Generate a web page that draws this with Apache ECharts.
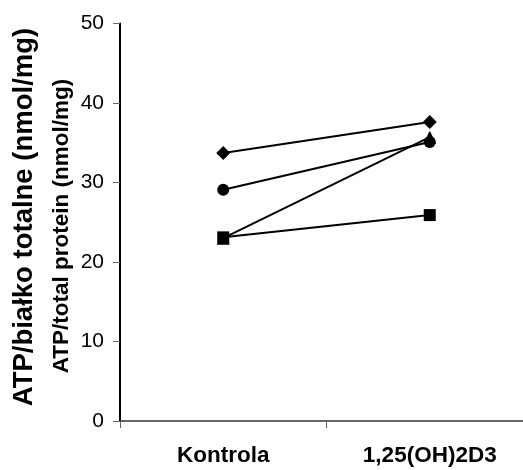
<!DOCTYPE html>
<html>
<head>
<meta charset="utf-8">
<script src="https://cdn.jsdelivr.net/npm/echarts@6/dist/echarts.min.js"></script>
<style>
  html, body { margin: 0; padding: 0; background: #fff; }
  #chart { width: 523px; height: 470px; }
</style>
</head>
<body>
<div id="chart"></div>
<script>
const categories = ["Kontrola", "1,25(OH)2D3"];
const yTicks = [0, 10, 20, 30, 40, 50];
const seriesTriangle = [23.0, 35.7];
const seriesDiamond = [33.7, 37.6];
const seriesCircle = [29.1, 35.1];
const seriesSquare = [23.1, 25.9];

const chart = echarts.init(document.getElementById("chart"));
const fontFamily = "Liberation Sans, Arial, sans-serif";

const lineSeries = (data, symbol, size) => ({
  type: "line",
  data,
  symbol,
  symbolSize: size,
  showAllSymbol: true,
  lineStyle: { color: "#000", width: 2 },
  itemStyle: { color: "#000" }
});

const option = {
  animation: false,
  textStyle: { fontFamily },
  // the category band runs past the right edge of the picture
  grid: { left: 120, width: 413, top: 23.5, bottom: 49, outerBoundsMode: "none", containLabel: false },
  xAxis: {
    type: "category",
    data: categories,
    boundaryGap: true,
    axisLine: { lineStyle: { color: "#333", width: 1.5 } },
    axisTick: { show: true, length: 7, lineStyle: { color: "#666" } },
    axisLabel: { color: "#000", fontSize: 22.5, fontWeight: "bold", margin: 23 }
  },
  yAxis: {
    type: "value",
    min: yTicks[0],
    max: yTicks[yTicks.length - 1],
    interval: 10,
    splitLine: { show: false },
    axisLine: { show: true, lineStyle: { color: "#000", width: 2 } },
    axisTick: { show: true, length: 7, lineStyle: { color: "#666" } },
    axisLabel: { color: "#000", fontSize: 21, margin: 16 }
  },
  graphic: [
    {
      type: "text",
      rotation: Math.PI / 2,
      x: 24, y: 217,
      style: {
        text: "ATP/białko totalne (nmol/mg)",
        font: "bold 27.5px " + fontFamily,
        fill: "#000",
        align: "center",
        verticalAlign: "middle"
      }
    },
    {
      type: "text",
      rotation: Math.PI / 2,
      x: 62, y: 226,
      style: {
        text: "ATP/total protein (nmol/mg)",
        font: "bold 22.5px " + fontFamily,
        fill: "#000",
        align: "center",
        verticalAlign: "middle"
      }
    }
  ],
  series: [
    lineSeries(seriesTriangle, "triangle", 13),
    lineSeries(seriesSquare, "rect", 12),
    lineSeries(seriesCircle, "circle", 12),
    lineSeries(seriesDiamond, "diamond", 14)
  ]
};

chart.setOption(option);
</script>
</body>
</html>
